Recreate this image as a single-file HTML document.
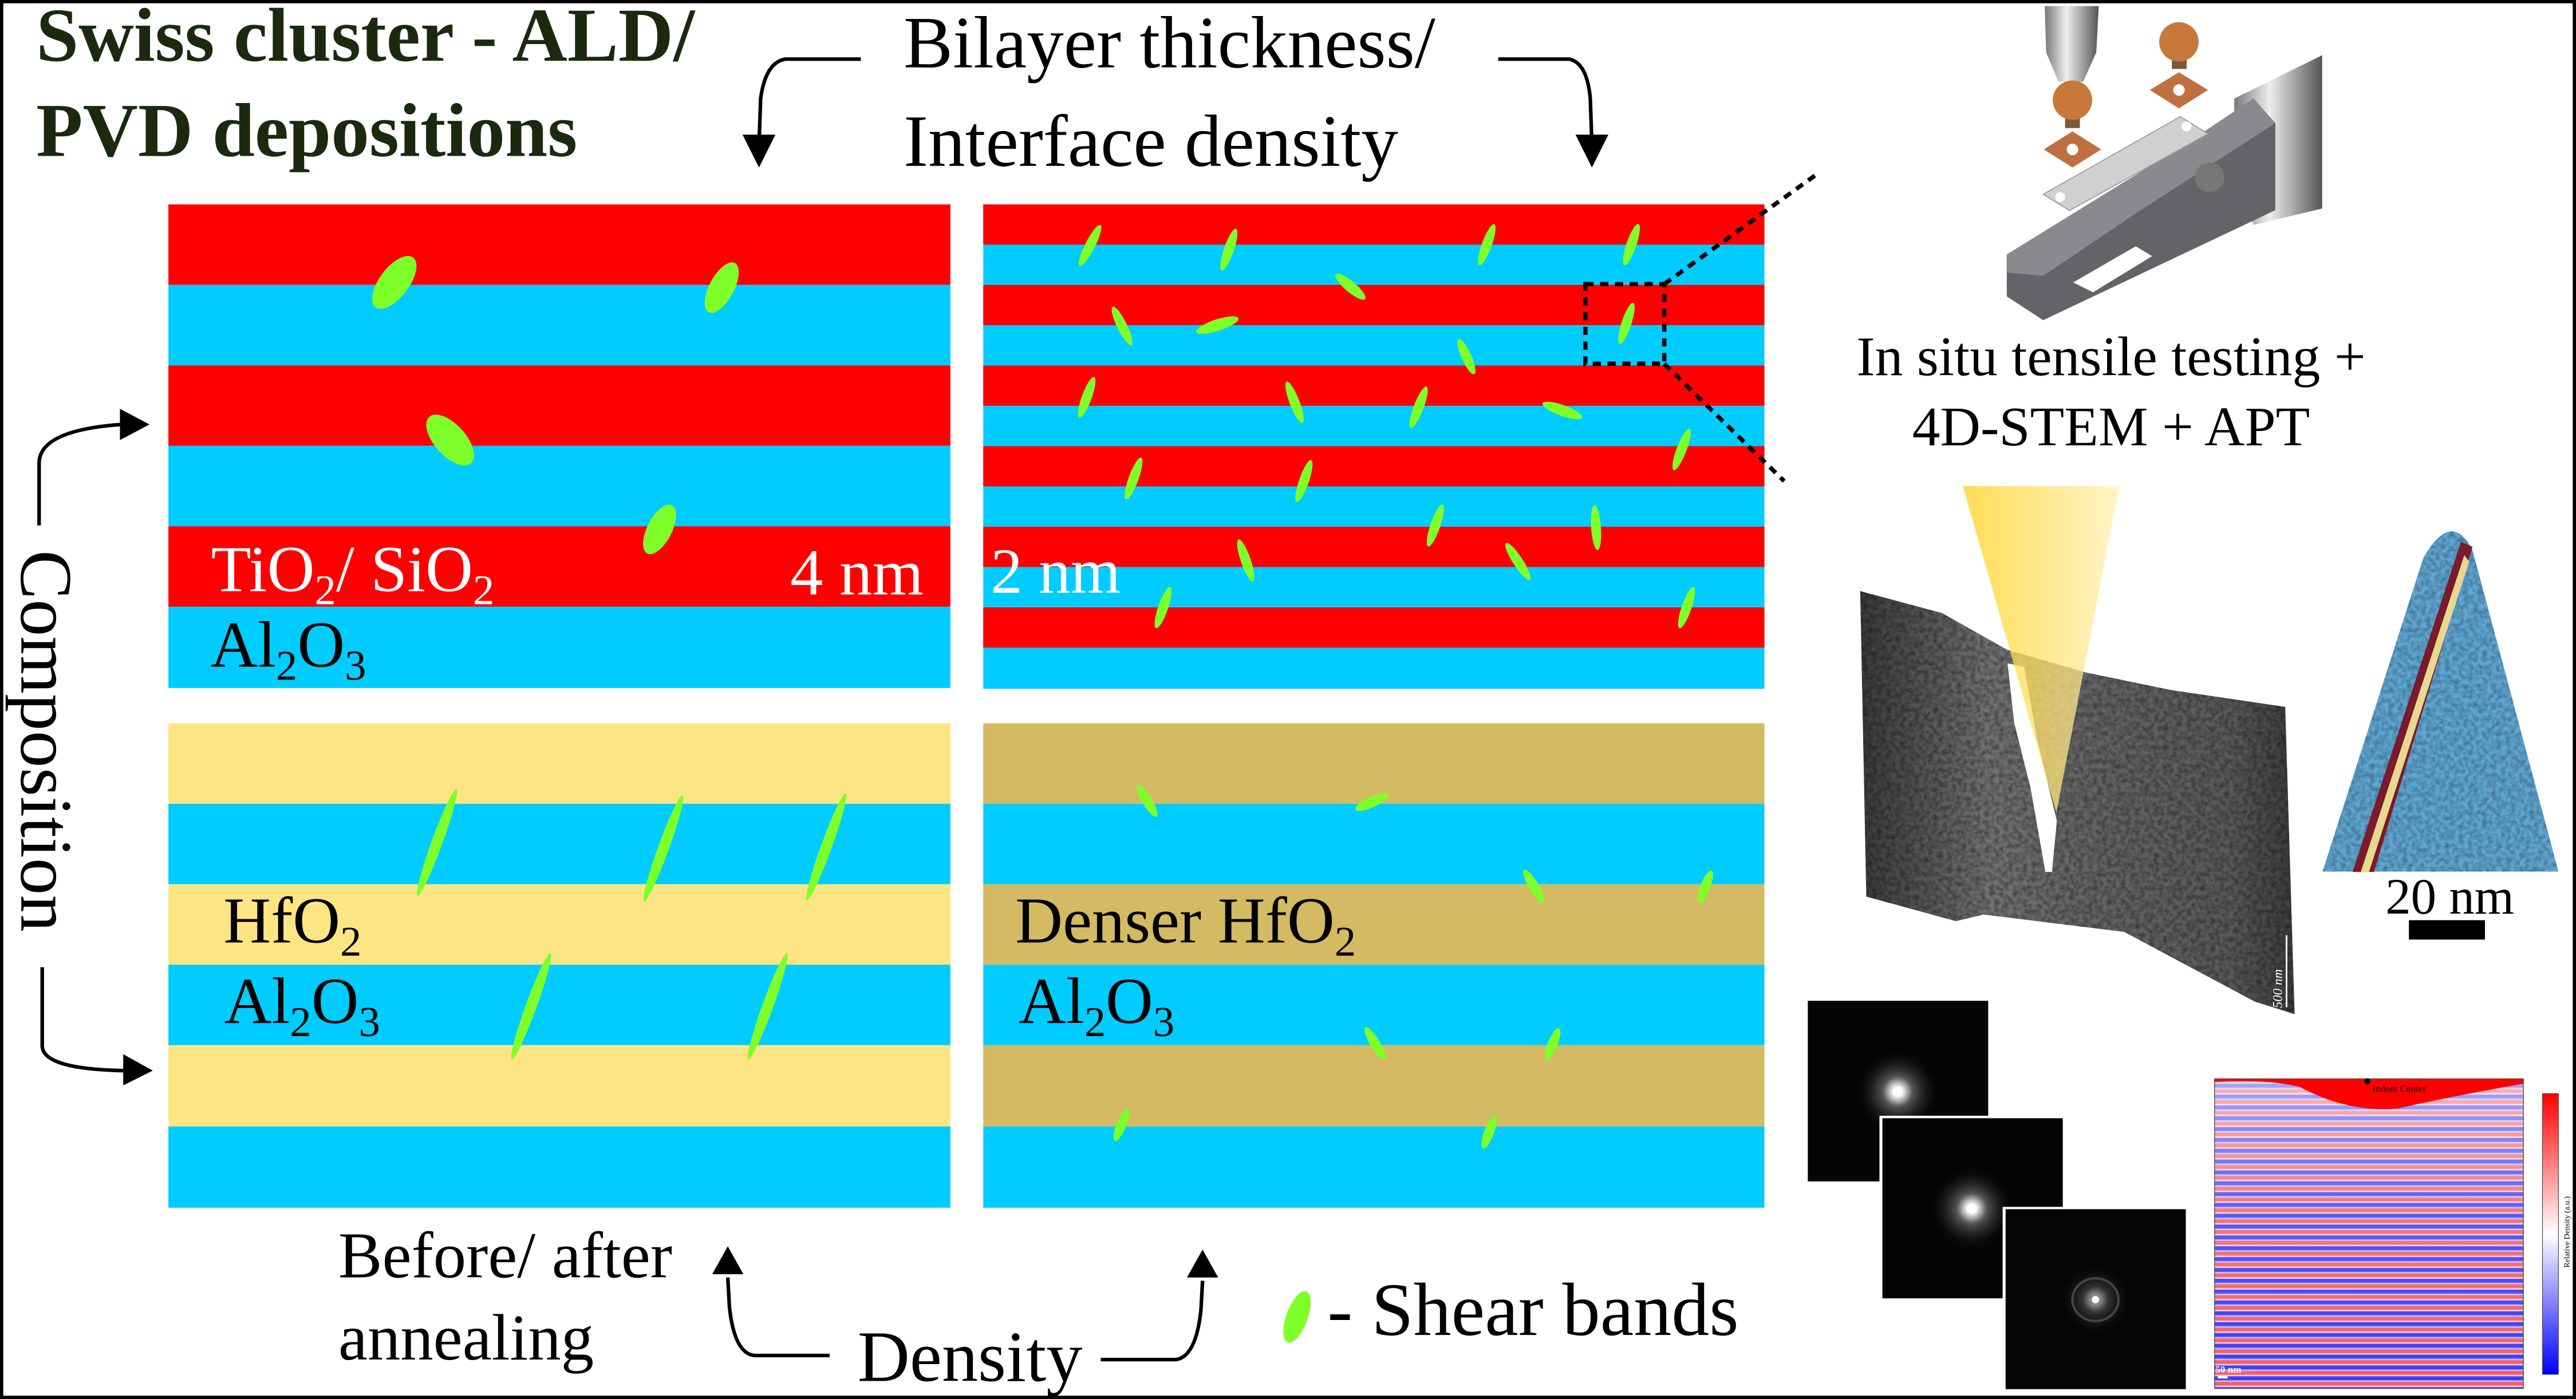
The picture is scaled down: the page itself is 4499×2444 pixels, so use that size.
<!DOCTYPE html>
<html><head><meta charset="utf-8"><style>
html,body{margin:0;padding:0;background:#fff;}
svg{display:block;}
text{font-family:"Liberation Serif",serif;}
</style></head><body>
<svg width="4499" height="2444" viewBox="0 0 1568 852" preserveAspectRatio="none" xmlns="http://www.w3.org/2000/svg">
<defs>
<linearGradient id="cone" x1="0" y1="0" x2="1" y2="0">
<stop offset="0" stop-color="#ffd42a" stop-opacity="0.95"/><stop offset="1" stop-color="#fff0b0" stop-opacity="0.85"/></linearGradient>
<linearGradient id="tem" x1="0" y1="0" x2="1" y2="0">
<stop offset="0" stop-color="#3a3a3a"/><stop offset="0.3" stop-color="#727272"/><stop offset="0.5" stop-color="#666"/><stop offset="0.85" stop-color="#5a5a5a"/><stop offset="1" stop-color="#3c3c3c"/></linearGradient>
<filter id="noise" x="0" y="0" width="1" height="1">
<feTurbulence type="fractalNoise" baseFrequency="0.35" numOctaves="2" seed="3"/>
<feColorMatrix type="matrix" values="0 0 0 0 0  0 0 0 0 0  0 0 0 0 0  0 0 0 -1.6 1.1"/>
<feComposite in2="SourceGraphic" operator="in"/>
</filter>
<linearGradient id="cb" x1="0" y1="0" x2="0" y2="1">
<stop offset="0" stop-color="#ff0000"/><stop offset="0.5" stop-color="#ffffff"/><stop offset="1" stop-color="#0000ff"/></linearGradient>
<pattern id="stripes" patternUnits="userSpaceOnUse" width="200" height="6.6" y="0">
<rect width="200" height="6.6" fill="#f4a0a0"/>
<rect y="0" width="200" height="2.4" fill="#3a3aff"/>
<rect y="2.4" width="200" height="1" fill="#b8b8ff"/>
<rect y="5.6" width="200" height="1" fill="#e8c8d8"/>
<rect y="3.4" width="200" height="2.2" fill="#ff5a5a"/>
</pattern>
<linearGradient id="fade" x1="0" y1="0" x2="0" y2="1">
<stop offset="0" stop-color="#fff" stop-opacity="0.55"/><stop offset="0.45" stop-color="#fff" stop-opacity="0.15"/><stop offset="1" stop-color="#fff" stop-opacity="0"/></linearGradient>
<radialGradient id="spot" cx="0.5" cy="0.5" r="0.5">
<stop offset="0" stop-color="#fff"/><stop offset="0.15" stop-color="#ddd"/><stop offset="0.35" stop-color="#555"/><stop offset="1" stop-color="#000" stop-opacity="0"/></radialGradient>
<linearGradient id="cyl" x1="0" y1="0" x2="1" y2="0">
<stop offset="0" stop-color="#777"/><stop offset="0.4" stop-color="#eee"/><stop offset="1" stop-color="#555"/></linearGradient>
</defs>
<rect width="1568" height="852" fill="#fff"/>

<!-- Title -->
<text x="22" y="37" font-size="46.5" font-weight="bold" fill="#1b2a0f">Swiss cluster - ALD/</text>
<text x="22" y="95" font-size="46.5" font-weight="bold" fill="#1b2a0f">PVD depositions</text>
<text x="550" y="41" font-size="45">Bilayer thickness/</text>
<text x="550" y="101" font-size="45">Interface density</text>

<!-- top arrows -->
<path d="M524 36 H478 Q466 38 463 60 L462 88" fill="none" stroke="#000" stroke-width="2.2"/>
<polygon points="452,82 472,82 462,102" fill="#000"/>
<path d="M912 36 H955 Q966 38 968 60 L969 88" fill="none" stroke="#000" stroke-width="2.2"/>
<polygon points="959,82 979,82 969,102" fill="#000"/>

<!-- Top-left panel -->
<g>
<rect x="102.5" y="124.5" width="476" height="49" fill="#ff0000"/>
<rect x="102.5" y="173.5" width="476" height="49" fill="#00ccff"/>
<rect x="102.5" y="222.5" width="476" height="49" fill="#ff0000"/>
<rect x="102.5" y="271.5" width="476" height="49" fill="#00ccff"/>
<rect x="102.5" y="320.5" width="476" height="49" fill="#ff0000"/>
<rect x="102.5" y="369.5" width="476" height="49.5" fill="#00ccff"/>
</g>
<g fill="#7fff2a">
<ellipse cx="240" cy="172" rx="9" ry="19" transform="rotate(37 240 172)"/>
<ellipse cx="439.3" cy="175.2" rx="7.5" ry="17" transform="rotate(28 439.3 175.2)"/>
<ellipse cx="274" cy="268" rx="9.5" ry="19" transform="rotate(-42 274 268)"/>
<ellipse cx="401.5" cy="322.4" rx="7.5" ry="16.5" transform="rotate(27 401.5 322.4)"/>
</g>
<text x="128.5" y="360" font-size="40" fill="#fff">TiO<tspan font-size="26" dy="8">2</tspan><tspan dy="-8">/ SiO</tspan><tspan font-size="26" dy="8">2</tspan></text>
<text x="481" y="362" font-size="40" fill="#fff">4 nm</text>
<text x="128" y="406" font-size="40">Al<tspan font-size="26" dy="8">2</tspan><tspan dy="-8">O</tspan><tspan font-size="26" dy="8">3</tspan></text>

<!-- Top-right panel -->
<g>
<rect x="598.5" y="124.5" width="475.5" height="295" fill="#00ccff"/>
<rect x="598.5" y="124.5" width="475.5" height="24.5" fill="#ff0000"/>
<rect x="598.5" y="173.5" width="475.5" height="24.5" fill="#ff0000"/>
<rect x="598.5" y="222.6" width="475.5" height="24.5" fill="#ff0000"/>
<rect x="598.5" y="271.7" width="475.5" height="24.5" fill="#ff0000"/>
<rect x="598.5" y="320.8" width="475.5" height="24.5" fill="#ff0000"/>
<rect x="598.5" y="369.9" width="475.5" height="24.5" fill="#ff0000"/>
</g>
<g fill="#7fff2a">
<ellipse cx="663.5" cy="149.5" rx="3" ry="14" transform="rotate(27 663.5 149.5)"/>
<ellipse cx="748" cy="152" rx="3" ry="13.4" transform="rotate(19 748 152)"/>
<ellipse cx="905" cy="149" rx="3" ry="13.3" transform="rotate(20 905 149)"/>
<ellipse cx="993" cy="149" rx="3" ry="13.3" transform="rotate(19 993 149)"/>
<ellipse cx="822" cy="174.6" rx="3.3" ry="11.7" transform="rotate(-50 822 174.6)"/>
<ellipse cx="683" cy="198.5" rx="3" ry="13" transform="rotate(-26 683 198.5)"/>
<ellipse cx="741" cy="198" rx="3.5" ry="13.5" transform="rotate(72 741 198)"/>
<ellipse cx="892.6" cy="217.2" rx="3" ry="11.7" transform="rotate(-24 892.6 217.2)"/>
<ellipse cx="990" cy="197" rx="3" ry="13.2" transform="rotate(18 990 197)"/>
<ellipse cx="661.5" cy="242" rx="3" ry="13.2" transform="rotate(20 661.5 242)"/>
<ellipse cx="788" cy="245" rx="3" ry="13.5" transform="rotate(-21 788 245)"/>
<ellipse cx="863.5" cy="248" rx="3" ry="13.5" transform="rotate(21 863.5 248)"/>
<ellipse cx="951" cy="250" rx="3.3" ry="12.8" transform="rotate(-70 951 250)"/>
<ellipse cx="1023.6" cy="273.7" rx="3" ry="13.5" transform="rotate(21 1023.6 273.7)"/>
<ellipse cx="690" cy="291.4" rx="3" ry="13.5" transform="rotate(20 690 291.4)"/>
<ellipse cx="793.7" cy="293" rx="3" ry="13.5" transform="rotate(19 793.7 293)"/>
<ellipse cx="873.7" cy="320" rx="3" ry="13.5" transform="rotate(19 873.7 320)"/>
<ellipse cx="971.5" cy="321.3" rx="3" ry="13.7" transform="rotate(-4 971.5 321.3)"/>
<ellipse cx="758.3" cy="341.3" rx="3" ry="13.5" transform="rotate(-19 758.3 341.3)"/>
<ellipse cx="924" cy="342" rx="3" ry="13.4" transform="rotate(-33 924 342)"/>
<ellipse cx="708" cy="370" rx="3" ry="13.3" transform="rotate(19 708 370)"/>
<ellipse cx="1026.6" cy="370" rx="3" ry="13.3" transform="rotate(19 1026.6 370)"/>
</g>
<text x="603" y="361" font-size="39" fill="#fff">2 nm</text>
<rect x="965" y="173" width="48" height="48.5" fill="none" stroke="#000" stroke-width="2.6" stroke-dasharray="5 4"/>
<line x1="1013" y1="173" x2="1106" y2="106" stroke="#000" stroke-width="2.6" stroke-dasharray="5 4"/>
<line x1="1013" y1="221.5" x2="1086" y2="293" stroke="#000" stroke-width="2.6" stroke-dasharray="5 4"/>

<!-- Bottom-left panel -->
<g>
<rect x="102.5" y="440.5" width="476" height="49" fill="#fee583"/>
<rect x="102.5" y="489.5" width="476" height="49" fill="#00ccff"/>
<rect x="102.5" y="538.5" width="476" height="49" fill="#fee583"/>
<rect x="102.5" y="587.5" width="476" height="49" fill="#00ccff"/>
<rect x="102.5" y="636.5" width="476" height="49.5" fill="#fee583"/>
<rect x="102.5" y="686" width="476" height="49.5" fill="#00ccff"/>
</g>
<g fill="#7fff2a">
<ellipse cx="266" cy="513" rx="3.3" ry="34.5" transform="rotate(20 266 513)"/>
<ellipse cx="403.8" cy="516.6" rx="3.3" ry="34.5" transform="rotate(20 403.8 516.6)"/>
<ellipse cx="503" cy="515.6" rx="3.3" ry="34.5" transform="rotate(20 503 515.6)"/>
<ellipse cx="323.3" cy="612.8" rx="3.3" ry="34.5" transform="rotate(20 323.3 612.8)"/>
<ellipse cx="467.3" cy="612.8" rx="3.3" ry="34.5" transform="rotate(20 467.3 612.8)"/>
</g>
<text x="136" y="574" font-size="40">HfO<tspan font-size="26" dy="8">2</tspan></text>
<text x="136.5" y="623" font-size="40">Al<tspan font-size="26" dy="8">2</tspan><tspan dy="-8">O</tspan><tspan font-size="26" dy="8">3</tspan></text>

<!-- Bottom-right panel -->
<g>
<rect x="598.5" y="440.5" width="475.5" height="49" fill="#d3ba63"/>
<rect x="598.5" y="489.5" width="475.5" height="49" fill="#00ccff"/>
<rect x="598.5" y="538.5" width="475.5" height="49" fill="#d3ba63"/>
<rect x="598.5" y="587.5" width="475.5" height="49" fill="#00ccff"/>
<rect x="598.5" y="636.5" width="475.5" height="49.5" fill="#d3ba63"/>
<rect x="598.5" y="686" width="475.5" height="49.5" fill="#00ccff"/>
</g>
<g fill="#7fff2a">
<ellipse cx="698.3" cy="487.8" rx="3" ry="11.2" transform="rotate(-31 698.3 487.8)"/>
<ellipse cx="835" cy="488.5" rx="3.2" ry="11" transform="rotate(66 835 488.5)"/>
<ellipse cx="933.5" cy="539.7" rx="3" ry="11.5" transform="rotate(-30 933.5 539.7)"/>
<ellipse cx="1038" cy="540" rx="3" ry="10.5" transform="rotate(21 1038 540)"/>
<ellipse cx="837" cy="635.5" rx="3" ry="11.5" transform="rotate(-31 837 635.5)"/>
<ellipse cx="945" cy="636" rx="3" ry="10.5" transform="rotate(22 945 636)"/>
<ellipse cx="682.6" cy="685" rx="3" ry="10.5" transform="rotate(22 682.6 685)"/>
<ellipse cx="906.4" cy="689.6" rx="3" ry="10.5" transform="rotate(21 906.4 689.6)"/>
</g>
<text x="618" y="574" font-size="40">Denser HfO<tspan font-size="26" dy="8">2</tspan></text>
<text x="620" y="623" font-size="40">Al<tspan font-size="26" dy="8">2</tspan><tspan dy="-8">O</tspan><tspan font-size="26" dy="8">3</tspan></text>

<!-- Composition -->
<text transform="translate(13 335) rotate(90)" font-size="45">Composition</text>
<path d="M23.8 320 V282 Q24 262 74 258.5" fill="none" stroke="#000" stroke-width="2.2"/>
<polygon points="73,249 91,258.5 73,268" fill="#000"/>
<path d="M25.7 589 V637 Q26 651 75 652" fill="none" stroke="#000" stroke-width="2.2"/>
<polygon points="75,642 93,652 75,661" fill="#000"/>

<!-- Bottom texts -->
<text x="206" y="778" font-size="40">Before/ after</text>
<text x="206" y="828" font-size="40">annealing</text>
<text x="522" y="841" font-size="44">Density</text>
<path d="M505 825.5 H459 Q447 824 444 796 L443 778" fill="none" stroke="#000" stroke-width="2.2"/>
<polygon points="433.5,776 452.5,776 443,759" fill="#000"/>
<path d="M670 828 H716 Q728 826 731 798 L732 780" fill="none" stroke="#000" stroke-width="2.2"/>
<polygon points="722.5,778 741.5,778 732,761" fill="#000"/>
<ellipse cx="789.5" cy="802" rx="6.5" ry="16.5" transform="rotate(20 789.5 802)" fill="#7fff2a"/>
<text x="808" y="813" font-size="46">- Shear bands</text>

<!-- Holder illustration -->
<g>
<polygon points="1244.6,3.7 1277.5,3.7 1276,32 1268,49.8 1253,49.8 1245.5,32" fill="url(#cyl)"/>
<polygon points="1360,60 1413.5,33.6 1413.5,127 1371.7,137 1360,110" fill="url(#cyl)"/>
<polygon points="1221.5,155 1330,88 1371.7,60 1385,75 1385,128 1243.7,195 1221.5,180.5" fill="#646468"/>
<polygon points="1221.5,155 1330,88 1371.7,60 1385,75 1300,130 1243.7,168 1221.5,166" fill="#8a8a8e"/>
<polygon points="1262,172 1300,150 1310,156 1274,178" fill="#fff"/>
<circle cx="1345" cy="108" r="9" fill="#777"/>
<polygon points="1243.7,118.3 1327.2,71 1344,81.5 1259.7,128.2" fill="#d0d0d2" stroke="#999" stroke-width="0.6"/>
<circle cx="1254" cy="120" r="3" fill="#fff"/><circle cx="1331" cy="77" r="3" fill="#fff"/>
<polygon points="1261.5,80 1279,91 1261.5,102 1244,91" fill="#c07040"/><circle cx="1261.5" cy="91" r="3.5" fill="#fff"/>
<polygon points="1326.3,44 1344,54.8 1326.3,66 1308.6,54.8" fill="#c07040"/><circle cx="1326.3" cy="54.8" r="3.5" fill="#fff"/>
<rect x="1257" y="66" width="9" height="12" fill="#7a5a3a"/><circle cx="1261.5" cy="61" r="12" fill="#c8783a"/>
<rect x="1322" y="30" width="9" height="12" fill="#7a5a3a"/><circle cx="1326.3" cy="25.5" r="12" fill="#c8783a"/>
</g>
<text x="1285" y="228.6" font-size="34" text-anchor="middle">In situ tensile testing +</text>
<text x="1285" y="271.3" font-size="34" text-anchor="middle">4D-STEM + APT</text>

<!-- TEM image -->
<polygon points="1132.3,360 1182,373.3 1221.8,395.7 1270,409.6 1321.3,420.2 1391,430.5 1396.7,617.6 1372.5,610 1292.9,567.5 1207.6,557 1190.5,561 1136,546" fill="url(#tem)"/>
<polygon points="1132.3,360 1182,373.3 1221.8,395.7 1270,409.6 1321.3,420.2 1391,430.5 1396.7,617.6 1372.5,610 1292.9,567.5 1207.6,557 1190.5,561 1136,546" fill="#1a1a1a" filter="url(#noise)" opacity="0.45"/>
<polygon points="1222,404 1232,406 1240,450 1252,500 1249,531 1245,531 1236,480 1226,440" fill="#fff"/>
<polygon points="1194.8,296 1290,296 1251.7,495" fill="url(#cone)" opacity="0.85"/>
<line x1="1391.8" y1="569.6" x2="1391.8" y2="613.4" stroke="#fff" stroke-width="1"/>
<text transform="translate(1389 614) rotate(-90)" font-size="8" fill="#fff" font-style="italic" font-family="Liberation Sans, sans-serif">500 nm</text>

<!-- APT cone -->
<path d="M1413.7,530.8 L1475,340 Q1492,310 1505,335 L1557.3,530.8 Z" fill="#5fa6d2"/>
<path d="M1413.7,530.8 L1475,340 Q1492,310 1505,335 L1557.3,530.8 Z" fill="#2a3a80" filter="url(#noise)" opacity="0.35"/>
<polygon points="1498,330 1505,333 1445,531 1432,531" fill="#7a1a2a"/>
<polygon points="1500,338 1503,342 1442,531 1437,531" fill="#e8d890"/>
<text x="1452" y="556.4" font-size="31">20 nm</text>
<rect x="1466.3" y="560.4" width="46.3" height="11.8" fill="#000"/>

<!-- Diffraction patterns -->
<rect x="1100.4" y="609.5" width="109.8" height="110" fill="#050505"/>
<circle cx="1155.1" cy="664.8" r="26" fill="url(#spot)"/>
<circle cx="1155.1" cy="664.8" r="3.2" fill="#fff"/>
<rect x="1144" y="679.5" width="113" height="113" fill="#fff"/>
<rect x="1145.8" y="681" width="109.8" height="109.7" fill="#050505"/>
<circle cx="1200.2" cy="736" r="26" fill="url(#spot)"/>
<circle cx="1200.2" cy="736" r="3.2" fill="#fff"/>
<rect x="1219" y="735" width="113" height="113" fill="#fff"/>
<rect x="1220.8" y="736.4" width="109.7" height="109.6" fill="#060606"/>
<circle cx="1275.5" cy="791.5" r="22" fill="url(#spot)" opacity="0.6"/>
<ellipse cx="1275.5" cy="791.5" rx="14" ry="13" fill="none" stroke="#444" stroke-width="1.5"/>
<circle cx="1275.5" cy="791.5" r="2.2" fill="#fff"/>

<!-- Density map -->
<rect x="1348" y="657" width="188" height="188.6" fill="url(#stripes)"/>
<rect x="1348" y="657" width="188" height="188.6" fill="url(#fade)"/>
<path d="M1348 657 H1536 V660 Q1490 668 1460 675 Q1430 678 1400 662 Q1380 657 1348 659 Z" fill="#ff0000"/>
<rect x="1348" y="657" width="188" height="188.6" fill="none" stroke="#555" stroke-width="0.5"/>
<circle cx="1441" cy="658.5" r="1.8" fill="#000"/>
<text x="1444" y="665" font-size="6" font-family="Liberation Sans, sans-serif">Indent Center</text>
<text x="1348.5" y="836" font-size="6" fill="#fff" font-weight="bold" font-family="Liberation Sans, sans-serif">50 nm</text>
<rect x="1350" y="838" width="6" height="1.5" fill="#fff"/>
<rect x="1547.6" y="666" width="9.7" height="171" fill="url(#cb)" stroke="#444" stroke-width="0.4"/>
<text transform="translate(1564 772) rotate(-90)" font-size="4.8" font-family="Liberation Sans, sans-serif">Relative Density (a.u.)</text>

<!-- border -->
<rect x="1" y="1" width="1566" height="850" fill="none" stroke="#000" stroke-width="2"/>
</svg>
</body></html>
